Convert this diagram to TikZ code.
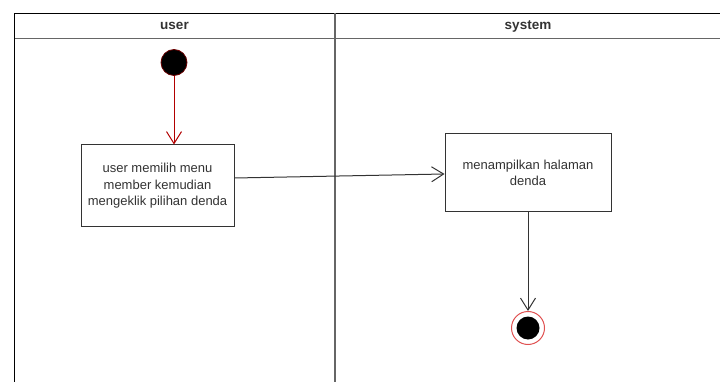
\documentclass[tikz,border=0pt]{standalone}
\usepackage{fontspec}
\setmainfont{Liberation Sans}
\usetikzlibrary{arrows.meta}
\definecolor{ink}{HTML}{333333}
\definecolor{startred}{HTML}{B20000}
\definecolor{endred}{HTML}{E05050}
\tikzset{
  x=1pt, y=-1pt,
  lane/.style={draw=black, line width=1pt},
  lanehead/.style={draw=gray!80!black, line width=1.3pt},
  lanetitle/.style={font=\fontsize{13.5}{16}\selectfont\bfseries, text=ink},
  action/.style={draw=ink, line width=1pt, fill=white, rectangle, inner sep=0pt,
    align=center, text=ink, font=\fontsize{13}{16.5}\selectfont},
  flow/.style={draw=ink, line width=1pt, -{Straight Barb[length=12pt,width=15pt,line width=1pt]}},
  startflow/.style={flow, draw=startred, -{Straight Barb[length=12pt,width=15pt,line width=1pt,color=startred]}},
  initial/.style={circle, fill=black, draw=startred!60!black, line width=0.8pt, minimum size=26pt, inner sep=0pt},
  finalring/.style={circle, fill=white, draw=endred, line width=1pt, minimum size=33pt, inner sep=0pt},
  finaldot/.style={circle, fill=black, minimum size=23pt, inner sep=0pt},
}
\begin{document}
\begin{tikzpicture}
\useasboundingbox (0,0) rectangle (720,382);
\fill[white] (0,0) rectangle (720,382);

% swimlane frame
\draw[lanehead] (14,38.5) -- (720,38.5);
\draw[lane] (720,13.5) -- (14,13.5) -- (14,382);
\draw[lanehead, line width=1.1pt] (335,13.5) -- (335,382);
\node[lanetitle] (tuser) at (174.5,26) {user};
\node[lanetitle] (tsys) at (528,26) {system};

% activity nodes
\node[initial] (start) at (174,62.5) {};
\node[action, minimum width=153pt, minimum height=82pt] (pick) at (157.5,186)
  {user memilih menu\\member kemudian\\mengeklik pilihan denda};
\node[action, minimum width=166pt, minimum height=78pt] (show) at (528,173)
  {menampilkan halaman\\denda};
\node[finalring] (end) at (528,328) {};
\node[finaldot] (enddot) at (end.center) {};

% control flow
\draw[startflow] (start) -- (start |- pick.north);
\draw[flow] ([yshift=8pt]pick.east) -- ([yshift=-1pt]show.west);
\draw[flow] (show.south) -- (end.north);
\end{tikzpicture}
\end{document}
